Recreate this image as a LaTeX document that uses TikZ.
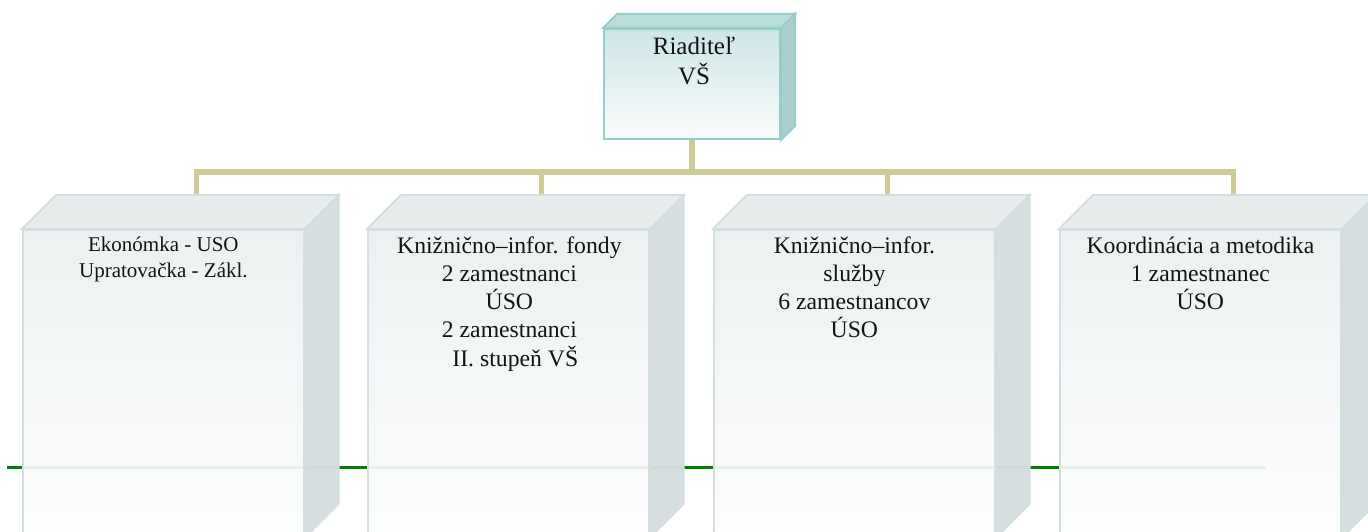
\documentclass[tikz,border=0pt]{standalone}
\usepackage{fontspec}
\setmainfont{Liberation Serif}
\usetikzlibrary{calc}

\definecolor{conncol}{RGB}{205,204,152}
\definecolor{linegreen}{RGB}{0,128,0}
\definecolor{boxedge}{RGB}{210,222,224}
\definecolor{boxtop}{RGB}{230,235,236}
\definecolor{boxside}{RGB}{214,221,222}
\definecolor{boxfronttop}{RGB}{235,239,240}
\definecolor{boxfrontbot}{RGB}{253,254,254}
\definecolor{topedge}{RGB}{150,206,202}
\definecolor{toptop}{RGB}{184,221,219}
\definecolor{topside}{RGB}{172,206,205}
\definecolor{topfronttop}{RGB}{205,230,231}
\definecolor{topfrontbot}{RGB}{250,252,252}
\definecolor{textcol}{RGB}{20,20,20}

\tikzset{
  conn/.style={draw=conncol, line width=5.5pt, line join=miter},
  greenline/.style={draw=linegreen, line width=3.5pt},
  frontface/.style={draw=boxedge, line width=1.8pt, top color=boxfronttop,
    bottom color=boxfrontbot, fill opacity=0.93, anchor=north west,
    inner sep=0pt, minimum width=281pt, minimum height=307pt},
  topfront/.style={draw=topedge, line width=2pt, top color=topfronttop,
    bottom color=topfrontbot, anchor=north west, inner sep=0pt,
    minimum width=176pt, minimum height=110pt},
  lidface/.style={draw=boxedge, line width=1.8pt, fill=boxtop, fill opacity=0.97, line join=miter},
  sideface/.style={draw=boxedge, line width=1.8pt, fill=boxside, fill opacity=0.97, line join=miter},
  toplid/.style={draw=topedge, line width=2pt, fill=toptop, line join=miter},
  topsideface/.style={draw=topedge, line width=2pt, fill=topside, line join=miter},
  boxtext/.style={anchor=base, inner sep=0pt, text=textcol,
    font={\fontsize{23.7pt}{28pt}\selectfont}},
  boxtextsmall/.style={anchor=base, inner sep=0pt, text=textcol,
    font={\fontsize{21pt}{26pt}\selectfont}},
  headtext/.style={anchor=base, inner sep=0pt, text=textcol,
    font={\fontsize{25pt}{28pt}\selectfont}},
}

\begin{document}
\begin{tikzpicture}[x=1pt, y=-1pt]
\useasboundingbox (0,0) rectangle (1368,532);
\clip (0,0) rectangle (1368,532);

% green horizontal line (behind the boxes)
\coordinate (gA) at (7,467.5);
\coordinate (gB) at (1266,467.5);
\draw[greenline] (gA) -- (gB);

% head box
\node[topfront] (head) at (603,28) {};
\coordinate (bus) at (head.south |- 0,172);

% connector end points: centre of the back top edge of each lower box
\coordinate (d1) at (196.5,195);
\coordinate (d2) at (541.5,195);
\coordinate (d3) at (887.5,195);
\coordinate (d4) at (1233.5,195);

\draw[conn] (head.south) -- (bus);
\draw[conn] (bus) -| (d1);
\draw[conn] (bus) -| (d2);
\draw[conn] (bus) -| (d3);
\draw[conn] (bus) -| (d4);

% head box faces
\draw[toplid] (head.north west) -- ++(14,-14) -- ($(head.north east)+(14,-14)$) -- (head.north east) -- cycle;
\draw[topsideface] (head.north east) -- ++(14,-14) -- ($(head.south east)+(14,-14)$) -- (head.south east) -- cycle;
\node[headtext] (headlabel) at (694,55) {\begin{tabular}[t]{@{}c@{}}Riaditeľ\\VŠ\end{tabular}};

% lower boxes
\foreach \i/\x in {1/22, 2/367, 3/713, 4/1059} {
  \node[frontface] (b\i) at (\x,229) {};
  \draw[lidface] (b\i.north west) -- ++(34,-34) -- ($(b\i.north east)+(34,-34)$) -- (b\i.north east) -- cycle;
  \draw[sideface] (b\i.north east) -- ++(34,-34) -- ($(b\i.south east)+(34,-34)$) -- (b\i.south east) -- cycle;
}

\node[boxtextsmall] (l1) at (b1.north |- 0,251) {\begin{tabular}[t]{@{}c@{}}Ekonómka - USO\\Upratovačka - Zákl.\end{tabular}};
\node[boxtext] (l2) at ($(b2.north |- 0,253)+(1,0)$) {\begin{tabular}[t]{@{}c@{}}Knižnično–infor. fondy\\2 zamestnanci\\ÚSO\\2 zamestnanci\\\ \ II. stupeň VŠ\end{tabular}};
\node[boxtext] (l3) at (b3.north |- 0,253) {\begin{tabular}[t]{@{}c@{}}Knižnično–infor.\\služby\\6 zamestnancov\\ÚSO\end{tabular}};
\node[boxtext] (l4) at (b4.north |- 0,253) {\begin{tabular}[t]{@{}c@{}}Koordinácia a metodika\\1 zamestnanec\\ÚSO\end{tabular}};
\end{tikzpicture}
\end{document}
